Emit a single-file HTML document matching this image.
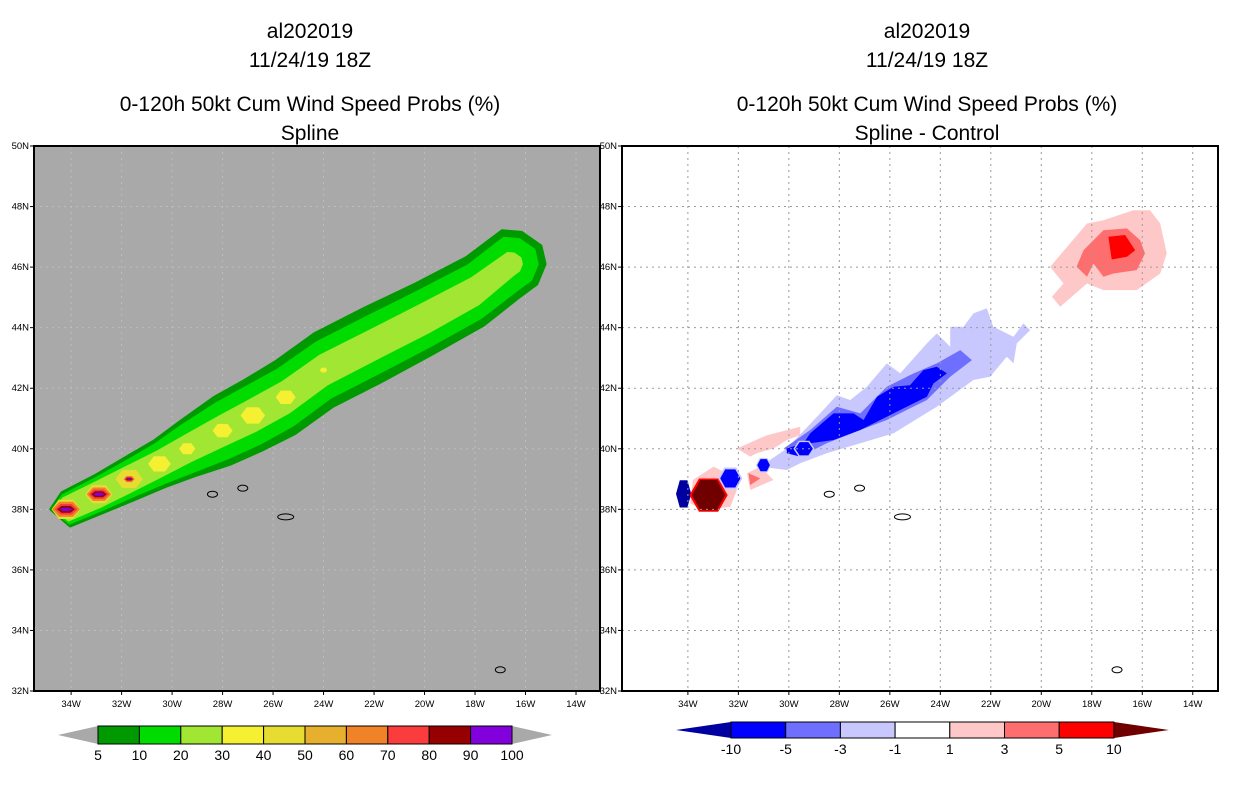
<!DOCTYPE html>
<html><head><meta charset="utf-8">
<style>
body{margin:0;background:#fff;}
svg text{font-family:"Liberation Sans",sans-serif;fill:#000;}
.t{font-size:21px;text-anchor:middle;}
.tk{font-size:9.5px;}
</style></head>
<body>
<svg id="s" width="1236" height="800" viewBox="0 0 1236 800" xmlns="http://www.w3.org/2000/svg">
<g>
<text class="t" x="310" y="38">al202019</text>
<text class="t" x="310" y="67">11/24/19 18Z</text>
<text class="t" x="310" y="111">0-120h 50kt Cum Wind Speed Probs (%)</text>
<text class="t" x="310" y="140">Spline</text>
</g>
<g>
<text class="t" x="927" y="38">al202019</text>
<text class="t" x="927" y="67">11/24/19 18Z</text>
<text class="t" x="927" y="111">0-120h 50kt Cum Wind Speed Probs (%)</text>
<text class="t" x="927" y="140">Spline - Control</text>
</g>
<g id="L"></g>
<g id="R"></g>
<g id="CB"></g>
</svg>
<script>
const NS='http://www.w3.org/2000/svg';
// ---- data ----
const trackLon=[-34.2,-32.9,-31.7,-30.5,-29.4,-28.0,-26.8,-25.5,-24.0,-22.0,-20.0,-18.0,-16.6];
const trackLat=[38.0,38.5,39.0,39.5,40.0,40.6,41.1,41.7,42.6,43.45,44.3,45.2,46.1];
const hw5 =[0.55,0.6,0.68,0.75,0.9,1.1,1.15,1.2,1.2,1.2,1.15,1.12,1.1];
const hw10=[0.45,0.5,0.55,0.62,0.75,0.88,0.92,0.92,0.9,0.9,0.88,0.85,0.85];
const hw20=[0.35,0.38,0.38,0.38,0.4,0.45,0.48,0.48,0.46,0.45,0.45,0.42,0.35];
const yellowSize=[0.32,0.3,0.3,0.25,0.18,0.22,0.27,0.22,0.08,0,0,0,0];
const hotSize=[0.25,0.22,0.1,0,0,0,0,0,0,0,0,0,0];
const probLevels=['5','10','20','30','40','50','60','70','80','90','100'];
const probColors=['#009a00','#00dc00','#a0e632','#f5f032','#e6dc32','#e6af2d','#f08228','#fa3c3c','#960000','#8200dc'];
const diffLevels=['-10','-5','-3','-1','1','3','5','10'];
const diffColors=['#0000a0','#0000ff','#6e6eff','#c8c8ff','#ffffff','#ffc8c8','#ff6e6e','#ff0000','#700000'];
const lightBlueLon=[-31.13,-30.08,-28.76,-28.10,-27.57,-26.91,-26.12,-25.59,-24.53,-24.14,-23.61,-23.61,-23.08,-22.69,-22.16,-21.9,-21.1,-20.71,-20.44,-20.97,-21.1,-21.37,-22.03,-22.69,-24.14,-25.85,-27.17,-28.5,-29.55,-30.08];
const lightBlueLat=[39.41,40.01,41.17,41.77,41.61,42.05,42.82,42.49,43.48,43.81,43.37,44.03,44.03,44.47,44.64,44.03,43.70,44.14,43.92,43.48,42.82,43.04,42.38,42.27,41.39,40.51,40.18,39.85,39.52,39.3];
const medBlueLon=[-30.21,-29.15,-28.10,-27.17,-26.12,-25.06,-24.14,-23.21,-22.75,-23.61,-24.53,-25.33,-26.12,-27.17,-28.5,-29.55];
const medBlueLat=[40.01,40.62,41.39,41.17,42.05,42.49,42.82,43.26,42.93,42.38,41.61,41.28,40.95,40.62,40.18,39.74];
const darkBlueLon=[-30.08,-29.42,-29.15,-28.23,-27.44,-27.04,-26.51,-25.85,-25.2,-24.67,-24.14,-23.74,-24.27,-24.53,-25.59,-26.12,-27.17,-28.23,-29.15,-29.55,-30.08];
const darkBlueLat=[40.01,40.18,40.51,41.17,41.17,40.95,41.72,42.05,42.1,42.6,42.71,42.49,42.16,41.72,41.28,41.06,40.62,40.29,40.18,39.74,39.85];
const pinkNELon=[-19.65,-18.19,-17.54,-16.35,-15.69,-15.29,-15.03,-15.29,-16.22,-17.54,-18.19,-19.25,-19.58,-19.12];
const pinkNELat=[46.01,47.44,47.55,47.88,47.88,47.44,46.45,45.79,45.24,45.24,45.46,44.69,45.02,45.46];
const medRedLon=[-18.6,-18.33,-17.54,-16.61,-16.08,-15.89,-16.22,-17.14,-17.54,-17.93,-18.19];
const medRedLat=[46.01,46.56,47.22,47.28,46.89,46.45,45.9,45.79,45.68,46.12,45.68];
const redLon=[-17.34,-16.68,-16.28,-16.61,-17.21];
const redLat=[47.0,47.06,46.56,46.34,46.25];
const pinkSWLon=[-32.06,-30.87,-29.55,-29.55,-30.08,-30.61,-31.27,-31.53];
const pinkSWLat=[40.01,40.45,40.73,40.45,40.29,40.01,39.85,39.74];
const pinkHexLon=[-33.8,-32.98,-32.45,-32.06,-32.32,-33.38,-33.91];
const pinkHexLat=[38.97,39.41,39.19,38.64,38.08,37.98,38.2];
const pinkMidLon=[-31.66,-31.13,-30.61,-31.53];
const pinkMidLat=[39.19,39.41,38.97,38.64];
const triRedLon=[-31.6,-31.13,-31.53];
const triRedLat=[39.19,39.02,38.8];
const blobLon=[-32.32,-31.0,-34.17,-33.18,-29.4];
const blobLat=[39.02,39.46,38.51,38.47,40.0];
const blobRx=[0.4,0.25,0.3,0.66,0.35];
const blobRy=[0.3,0.2,0.45,0.5,0.22];
const blobCol=[2,2,1,9,2];
const islandLon=[-28.4,-27.2,-25.5,-17.0];
const islandLat=[38.5,38.7,37.75,32.7];

function mk(tag,attrs,parent){const e=document.createElementNS(NS,tag);for(const k in attrs)e.setAttribute(k,attrs[k]);parent.appendChild(e);return e;}
function proj(x0,x1,lon0,lon1){const y0=146,y1=691;return{x:l=>x0+(l-lon0)/(lon1-lon0)*(x1-x0),y:a=>y1-(a-32)/18*(y1-y0),x0,x1,y0,y1,lon0,lon1};}
const PL=proj(34,600,-35.47,-13.05);
const PR=proj(622,1218,-36.61,-13.0);

function frame(g,P,bg,nm){
  const r=mk('rect',{x:P.x0,y:P.y0,width:P.x1-P.x0,height:P.y1-P.y0,fill:bg},g);
  
}
function grid(g,P,col,nm){
  const gg=mk('g',{},g);
  for(let l=-34;l<=-14;l+=2){mk('line',{x1:P.x(l),x2:P.x(l),y1:P.y0,y2:P.y1,stroke:col,'stroke-dasharray':'2,4','stroke-width':1},gg);}
  for(let a=34;a<=48;a+=2){mk('line',{y1:P.y(a),y2:P.y(a),x1:P.x0,x2:P.x1,stroke:col,'stroke-dasharray':'2,4','stroke-width':1},gg);}
}
function axes(g,P,nm){
  const gg=mk('g',{},g);
  mk('rect',{x:P.x0,y:P.y0,width:P.x1-P.x0,height:P.y1-P.y0,fill:'none',stroke:'#000','stroke-width':2},gg);
  for(let a=32;a<=50;a+=2){const y=P.y(a);mk('line',{x1:P.x0-4,x2:P.x0,y1:y,y2:y,stroke:'#000'},gg);
    const t=mk('text',{x:P.x0-5,y:y+3,class:'tk','text-anchor':'end'},gg);t.textContent=a+'N';}
  for(let l=-34;l<=-14;l+=2){const x=P.x(l);mk('line',{x1:x,x2:x,y1:P.y1,y2:P.y1+4,stroke:'#000'},gg);
    const t=mk('text',{x:x,y:P.y1+16,class:'tk','text-anchor':'middle'},gg);t.textContent=(-l)+'W';}
}
function poly(g,P,lons,lats,fill,name){
  const pts=lons.map((l,i)=>P.x(l).toFixed(1)+','+P.y(lats[i]).toFixed(1)).join(' ');
  const p=mk('polygon',{points:pts,fill:fill},g);
  
  
  return p;
}
function swath(g,P,hw,fill,name){
  const lons=[],lats=[];const n=trackLon.length;
  lons.push(trackLon[0]-hw[0]*1.1);lats.push(trackLat[0]);
  for(let i=0;i<n;i++){lons.push(trackLon[i]-hw[i]*0.3);lats.push(trackLat[i]+hw[i]);}
  const e=hw[n-1];
  lons.push(trackLon[n-1]+e*0.4);lats.push(trackLat[n-1]+e*0.95);
  lons.push(trackLon[n-1]+e*1.1);lats.push(trackLat[n-1]+e*0.55);
  lons.push(trackLon[n-1]+e*1.25);lats.push(trackLat[n-1]);
  lons.push(trackLon[n-1]+e*0.95);lats.push(trackLat[n-1]-e*0.6);
  for(let i=n-1;i>=0;i--){lons.push(trackLon[i]+hw[i]*0.3);lats.push(trackLat[i]-hw[i]);}
  const p=poly(g,P,lons,lats,fill,name);p.setAttribute('stroke',fill);p.setAttribute('stroke-linejoin','round');p.setAttribute('stroke-width','3');
}
function diamond(g,P,lon,lat,rx,ry,fill,name){
  poly(g,P,[lon-rx,lon-rx*0.5,lon+rx*0.5,lon+rx,lon+rx*0.5,lon-rx*0.5],[lat,lat+ry,lat+ry,lat,lat-ry,lat-ry],fill,name);
}
function islands(g,P,nm){
  islandLon.forEach((l,i)=>{const e=mk('ellipse',{cx:P.x(l),cy:P.y(islandLat[i]),rx:i==2?8:5,ry:3,fill:'none',stroke:'#000','stroke-width':1},g);
    });
}

// ---- left ----
const L=document.getElementById('L');
frame(L,PL,'#a9a9a9','left-map');
grid(L,PL,'#bdbdbd','left-map');
swath(L,PL,hw5,probColors[0],'prob-5-contour');
swath(L,PL,hw10,probColors[1],'prob-10-contour');
swath(L,PL,hw20,probColors[2],'prob-20-contour');
trackLon.forEach((l,i)=>{
  if(yellowSize[i]>0){diamond(L,PL,l,trackLat[i],yellowSize[i]*1.8,yellowSize[i],i<3?probColors[4]:probColors[3],'prob-30-blob');}
  if(hotSize[i]>0){diamond(L,PL,l,trackLat[i],hotSize[i]*2.2,hotSize[i],probColors[6],'prob-60-blob');
    diamond(L,PL,l,trackLat[i],hotSize[i]*1.8,hotSize[i]*0.7,probColors[7],'prob-70-blob');
    diamond(L,PL,l,trackLat[i],hotSize[i]*1.4,hotSize[i]*0.45,probColors[8],'prob-80-blob');
    diamond(L,PL,l,trackLat[i],hotSize[i]*1.0,hotSize[i]*0.22,probColors[9],'prob-90-blob');}
});
islands(L,PL,'left-map');
axes(L,PL,'left-map');

// ---- right ----
const R=document.getElementById('R');
frame(R,PR,'#ffffff','right-map');
poly(R,PR,pinkNELon,pinkNELat,diffColors[5],'diff-1-3-ne');
poly(R,PR,medRedLon,medRedLat,diffColors[6],'diff-3-5-ne');
poly(R,PR,redLon,redLat,diffColors[7],'diff-5-10-ne');
poly(R,PR,pinkSWLon,pinkSWLat,diffColors[5],'diff-1-3-sw');
poly(R,PR,pinkHexLon,pinkHexLat,diffColors[5],'diff-1-3-hex');
poly(R,PR,pinkMidLon,pinkMidLat,diffColors[5],'diff-1-3-mid');
poly(R,PR,triRedLon,triRedLat,diffColors[6],'diff-3-5-mid');
poly(R,PR,lightBlueLon,lightBlueLat,diffColors[3],'diff-neg1-3');
poly(R,PR,medBlueLon,medBlueLat,diffColors[2],'diff-neg3-5');
poly(R,PR,darkBlueLon,darkBlueLat,diffColors[1],'diff-neg5-10');
blobLon.forEach((l,i)=>{
  if(blobCol[i]==2){diamond(R,PR,l,blobLat[i],blobRx[i]*1.2,blobRy[i]*1.2,diffColors[3],'diff-blob-outer');}
  if(blobCol[i]==9){diamond(R,PR,l,blobLat[i],blobRx[i]*1.15,blobRy[i]*1.1,diffColors[7],'diff-blob-outer');}
  diamond(R,PR,l,blobLat[i],blobRx[i],blobRy[i],blobCol[i]==2?diffColors[1]:(blobCol[i]==1?diffColors[0]:diffColors[8]),'diff-blob');
});
grid(R,PR,'#9a9a9a','right-map');
islands(R,PR,'right-map');
axes(R,PR,'right-map');

// ---- colorbars ----
const CB=document.getElementById('CB');
function colorbar(x0,bw,levels,colors,lowFill,highFill,triW,y,h,nm,innerStart){
  const g=mk('g',{},CB);
  const n=levels.length-1;const x1=x0+n*bw;
  const tl=mk('polygon',{points:`${x0-triW},${y+h/2} ${x0},${y} ${x0},${y+h}`,fill:lowFill},g);
  
  const tr=mk('polygon',{points:`${x1},${y} ${x1+triW},${y+h/2} ${x1},${y+h}`,fill:highFill},g);
  
  for(let i=0;i<n;i++){const r=mk('rect',{x:x0+i*bw,y:y,width:bw,height:h,fill:colors[i+innerStart],stroke:'#000','stroke-width':1},g);
    }
  levels.forEach((lv,i)=>{const t=mk('text',{x:x0+i*bw,y:y+h+16,'text-anchor':'middle','font-size':'14px'},g);t.textContent=lv;});
}
colorbar(98,41.4,probLevels,probColors,'#a9a9a9','#a9a9a9',40,726,18,'prob-colorbar',0);
colorbar(731,54.7,diffLevels,diffColors,diffColors[0],diffColors[8],55,722,16,'diff-colorbar',1);
</script>
</body></html>
